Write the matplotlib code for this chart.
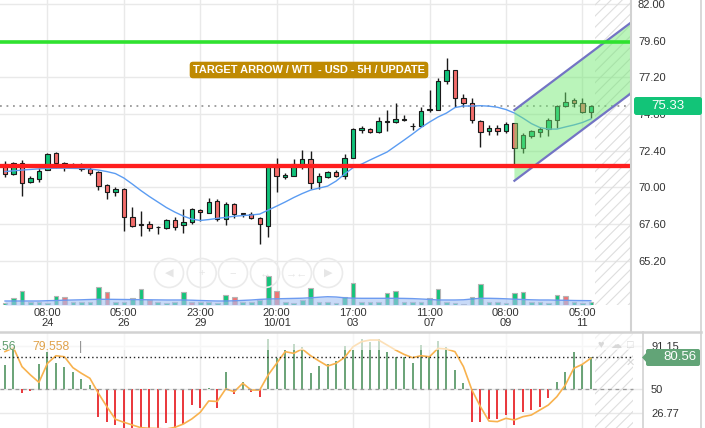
import matplotlib.pyplot as plt
import numpy as np
from matplotlib.lines import Line2D
from matplotlib.patches import Circle, FancyBboxPatch, Polygon, Rectangle

plt.rcParams["font.family"] = ["Liberation Sans", "DejaVu Sans"]
plt.rcParams["hatch.linewidth"] = 0.8

# WTI 5H candles
opens = [71.52, 70.85, 71.61, 70.35, 70.52, 71.13, 72.26, 71.61, 71.43, 71.33,
         71.20, 71.00, 70.15, 69.67, 69.87, 68.05, 67.58, 67.60, 67.43, 67.35,
         67.86, 67.51, 67.73, 68.51, 68.33, 69.10, 67.90, 68.89, 68.31, 68.23,
         67.97, 67.48, 71.35, 70.65, 70.76, 71.52, 71.85, 70.33, 70.69, 70.98,
         70.76, 71.90, 73.78, 73.79, 73.60, 74.32, 74.25, 74.42, 73.98, 74.03,
         75.06, 75.06, 76.94, 77.68, 75.82, 75.50, 74.36, 73.68, 73.86, 73.68,
         74.19, 72.55, 73.36, 73.64, 73.79, 74.40, 75.34, 75.71, 75.50, 74.91]
highs = [71.72, 71.67, 71.79, 70.74, 71.27, 72.24, 72.33, 71.65, 71.59, 71.59,
         71.39, 71.06, 70.21, 70.02, 69.95, 68.68, 68.45, 67.79, 67.48, 67.92,
         68.07, 68.56, 68.64, 68.58, 69.28, 69.23, 69.06, 68.97, 68.33, 68.38,
         68.05, 71.52, 71.90, 70.91, 71.85, 72.44, 72.37, 70.95, 71.06, 71.13,
         72.16, 73.90, 74.01, 73.88, 74.57, 75.06, 75.50, 74.73, 74.23, 75.27,
         76.37, 77.17, 78.44, 77.68, 76.08, 75.86, 74.40, 74.08, 74.08, 74.29,
         74.21, 73.57, 73.75, 73.97, 74.55, 75.39, 76.22, 75.86, 75.82, 75.39]
lows = [70.67, 70.80, 69.43, 70.28, 70.35, 71.13, 71.27, 71.06, 71.33, 71.06,
        70.80, 69.82, 69.23, 69.43, 67.14, 67.40, 66.83, 67.14, 66.97, 67.27,
        67.20, 67.03, 67.60, 67.79, 68.31, 67.79, 67.53, 68.01, 68.05, 67.92,
        66.29, 66.72, 69.67, 70.52, 70.74, 71.18, 69.89, 69.89, 70.61, 70.65,
        70.52, 71.90, 73.53, 73.55, 73.55, 73.68, 74.21, 74.36, 73.75, 74.01,
        74.95, 75.06, 76.74, 75.27, 75.27, 74.19, 72.66, 73.42, 73.42, 73.57,
        71.50, 72.22, 73.21, 73.31, 73.38, 73.86, 75.23, 75.27, 74.84, 74.51]
closes = [70.87, 71.61, 70.30, 70.61, 71.08, 72.18, 71.61, 71.44, 71.47, 71.23,
          70.95, 70.10, 69.71, 69.89, 68.03, 67.50, 67.55, 67.35, 67.40, 67.86,
          67.42, 67.71, 68.56, 68.36, 69.02, 67.90, 68.89, 68.23, 68.26, 67.97,
          67.58, 71.46, 70.74, 70.80, 71.50, 71.85, 70.26, 70.74, 70.98, 70.76,
          71.94, 73.81, 73.85, 73.60, 74.32, 74.27, 74.47, 74.47, 74.03, 75.01,
          75.10, 76.94, 77.68, 75.82, 75.50, 74.40, 73.64, 73.86, 73.68, 74.16,
          72.55, 73.42, 73.68, 73.81, 74.40, 75.34, 75.60, 75.50, 74.91, 75.33]
sma = [71.03, 71.08, 71.13, 71.17, 71.21, 71.24, 71.25, 71.25, 71.24, 71.23,
       71.20, 71.13, 71.03, 70.90, 70.61, 70.21, 69.79, 69.40, 69.04, 68.68,
       68.38, 68.12, 67.92, 67.83, 67.89, 67.97, 68.03, 68.11, 68.15, 68.19,
       68.25, 68.51, 68.77, 69.04, 69.33, 69.59, 69.82, 69.95, 70.08, 70.41,
       70.87, 71.29, 71.52, 71.79, 72.05, 72.31, 72.70, 73.09, 73.49, 73.91,
       74.27, 74.60, 74.86, 75.22, 75.32, 75.32, 75.34, 75.31, 75.24, 75.09,
       74.86, 74.53, 74.17, 73.91, 73.81, 73.81, 73.95, 74.08, 74.24, 74.47]

volumes = [200, 670, 1430, 300, 300, 230, 930, 830, 300, 300,
           330, 1830, 1330, 300, 330, 670, 1600, 500, 300, 200,
           330, 1330, 330, 300, 300, 200, 1000, 830, 300, 300,
           500, 2930, 1430, 300, 200, 500, 1730, 300, 300, 200,
           830, 2170, 300, 300, 330, 1170, 1430, 300, 300, 300,
           730, 1570, 300, 230, 100, 830, 2070, 300, 300, 200,
           1170, 1270, 300, 300, 200, 1000, 930, 300, 200, 300]
red_volume_idx = [7, 12, 17, 22, 27, 32, 54, 66]
volume_ma = [400, 400, 400, 400, 400, 430, 450, 480, 500, 520,
             550, 570, 570, 560, 550, 540, 530, 520, 510, 500,
             500, 500, 480, 450, 420, 400, 400, 420, 460, 500,
             560, 600, 620, 640, 660, 680, 720, 780, 830, 800,
             720, 680, 670, 670, 670, 670, 670, 660, 640, 600,
             560, 500, 500, 500, 520, 600, 670, 670, 650, 620,
             580, 550, 520, 500, 500, 480, 470, 450, 440, 430]

osc = [73, 89, 46, 48, 73.7, 86, 74.7, 71.5, 66.6, 59.6,
       53.8, 23.4, 18, 15.4, 12, 12, 12, 12, 12, 17,
       12, 16, 34.6, 31.4, 50.8, 31.4, 66.6, 45, 56.4, 46.7,
       42.6, 98, 79.5, 87.5, 93, 90.7, 65, 72.4, 73.7, 77,
       91.6, 87.5, 98, 95.5, 98, 86, 81, 81, 74.7, 92.3,
       81, 96, 90.7, 68.3, 55.4, 18.6, 18, 21, 21, 25,
       15.4, 27.6, 29.8, 32.4, 41.7, 56.4, 66.6, 86, 73, 80.56]
osc_ma = [86, 89.7, 71.5, 63.5, 56.4, 74.7, 82, 81, 70.5, 65.1,
          60.3, 45.9, 33, 20.9, 18, 15.4, 12.8, 12.2, 12, 11.5,
          13.1, 16.3, 21.2, 27.6, 38.5, 38, 50.1, 47.4, 55.5, 49,
          49, 63.5, 74.7, 85.9, 84.3, 88.5, 82, 76.9, 72.1, 74.7,
          80.4, 90.7, 95.5, 97.1, 97.1, 92.3, 87.5, 83.3, 80.1, 82,
          81, 89.1, 88.5, 85.9, 71.5, 49, 33, 19.2, 18.6, 21.8,
          20.2, 23.4, 25, 29.8, 34.6, 42.6, 53.8, 69.9, 73.7, 79.558]

tick_pos = [5, 14, 23, 32, 41, 50, 59, 68]
tick_labels = ["08:00\n24", "05:00\n26", "23:00\n29", "20:00\n10/01",
               "17:00\n03", "11:00\n07", "08:00\n09", "05:00\n11"]
price_ticks = [65.20, 67.60, 70.00, 72.40, 74.80, 77.20, 79.60, 82.00]
osc_ticks = [26.77, 50, 91.15]

resistance = 79.5
support = 71.41
last_price = 75.33
osc_last = 80.56
osc_ma_last = 79.558

channel_k = [60, 76]
channel_upper = [75.06, 81.73]
channel_lower = [70.43, 77.10]

title = "TARGET ARROW / WTI  - USD - 5H / UPDATE"

W, H = 705, 428
GREEN = "#10c27a"
RED = "#f36d6b"
GRID = "#e9e9e9"
BORDER = "#d2d2d2"

fig = plt.figure(figsize=(W / 100, H / 100), dpi=100)


def fx(px):
    return px / W


def fy(py):
    return 1 - py / H


def px_box(x0, y0, x1, y1, color, rounding=0.025):
    box = FancyBboxPatch((x0 / 100, (H - y1) / 100), (x1 - x0) / 100, (y1 - y0) / 100,
                         boxstyle=f"round,pad=0,rounding_size={rounding}",
                         transform=fig.dpi_scale_trans, fc=color, ec="none", zorder=5)
    fig.add_artist(box)


idx = np.arange(len(closes))
o = np.array(opens)
c = np.array(closes)

# ---- price panel ----
ax = fig.add_axes([0, fy(305), fx(631), 305 / H])
axv = ax.twinx()  # volume, drawn at the bottom of the price panel
ax.set_xlim(-0.589, 73.73)
ax.set_ylim(62.30, 82.257)
for s in ax.spines.values():
    s.set_visible(False)
ax.set_axisbelow(True)
ax.set_xticks(tick_pos)
ax.set_xticklabels(tick_labels, fontsize=8, color="#333333", linespacing=1.0)
ax.set_yticks(price_ticks)
ax.set_yticklabels([f"{p:.2f}" for p in price_ticks], fontsize=8, color="#333333")
ax.yaxis.tick_right()
ax.tick_params(axis="y", length=0, pad=5)
ax.tick_params(axis="x", length=0, pad=2)
ax.grid(True, color=GRID, lw=1)

ax.axvspan(69.5, 74, facecolor="none", edgecolor="#dedede", hatch="///", lw=0, zorder=1)

candle_colors = [GREEN if cc >= oo else RED for oo, cc in zip(o, c)]
ax.vlines(idx, lows, highs, color="#1a1a1a", lw=1, zorder=3)
ax.bar(idx, np.maximum(np.abs(c - o), 0.03), bottom=np.minimum(o, c), width=0.52,
       color=candle_colors, edgecolor="#1a1a1a", linewidth=0.8, zorder=4)
ax.plot(idx, sma, color="#5b9cf2", lw=1, zorder=4.5)

ax.axhline(last_price, color="#999999", lw=1.3, ls=(0, (1, 2.6)), zorder=2)

chan = Polygon([(channel_k[0], channel_lower[0]), (channel_k[0], channel_upper[0]),
                (channel_k[1], channel_upper[1]), (channel_k[1], channel_lower[1])],
               closed=True, fc="#6fe86f", alpha=0.48, ec="none", zorder=5)
ax.add_patch(chan)
ax.plot(channel_k, channel_upper, color="#7374c4", lw=1.6, zorder=6)
ax.plot(channel_k, channel_lower, color="#7374c4", lw=1.6, zorder=6)

ax.axhline(resistance, color="#2fe22f", lw=2.6, zorder=6)
ax.axhline(support, color="#ff1e1e", lw=3.1, zorder=6)

ax.text(fx(309) / fx(631), 1 - 70 / 305, title, transform=ax.transAxes,
        ha="center", va="center", fontsize=7.9, fontweight="bold", color="white",
        zorder=8, bbox=dict(boxstyle="round,pad=0.3,rounding_size=0.3",
                            fc="#bf8a02", ec="none"))

# volume
axv.set_ylim(0, 30500)
axv.axis("off")
vol_colors = ["#f07575" if i in red_volume_idx else "#14c47a" for i in idx]
axv.bar(idx, volumes, width=0.55, color=vol_colors, edgecolor="#b5b5b5", linewidth=0.8)
axv.fill_between(idx, 0, volume_ma, color="#a5c2f2", alpha=0.6, lw=0)
axv.plot(idx, volume_ma, color="#6d9bf0", lw=1)

# navigation buttons overlay
for cx, sym in zip([169, 201.7, 233, 265, 297, 328], ["◀", "+", "−", "↔", "→←", "▶"]):
    fig.add_artist(Circle((cx / 100, (H - 273) / 100), 0.145, transform=fig.dpi_scale_trans,
                          fc="none", ec="#ebebeb", lw=1.2))
    fig.text(fx(cx), fy(273), sym, ha="center", va="center", fontsize=8, color="#e6e6e6")

# ---- oscillator panel ----
ax2 = fig.add_axes([0, 0, fx(643), 95 / H])
ax2.set_xlim(-0.589, 75.15)
ax2.set_ylim(12.5, 103.85)
for s in ax2.spines.values():
    s.set_visible(False)
ax2.set_axisbelow(True)
ax2.set_xticks(tick_pos)
ax2.set_xticklabels([])
ax2.set_yticks(osc_ticks)
ax2.set_yticklabels(["26.77", "50", "91.15"], fontsize=8, color="#333333")
ax2.yaxis.tick_right()
ax2.tick_params(length=0)
ax2.tick_params(axis="y", pad=5.8)
ax2.grid(True, color=GRID, lw=1)

ax2.axvspan(69.5, 73.95, facecolor="none", edgecolor="#dedede", hatch="///", lw=0, zorder=1)
osc_colors = ["#5e9c6c" if v >= 50 else "#e8262b" for v in osc]
ax2.vlines(idx, 50, osc, colors=osc_colors, lw=1.3, zorder=3)
ax2.plot(idx, osc_ma, color="#f8b24e", lw=1.2, zorder=4)
ax2.hlines(50, -0.6, 73.95, color="#9a9a9a", lw=0.9, ls=(0, (3, 3)), zorder=5)
ax2.hlines(osc_last, -0.6, 73.95, color="#222222", lw=1, ls=(0, (1, 2)), zorder=5)
ax2.add_patch(Rectangle((0, 1 - 17 / 95), 1, 17 / 95, transform=ax2.transAxes,
                        fc="white", alpha=0.6, ec="none", zorder=6))

fig.text(fx(16), fy(347), f"{osc_last:.2f}", ha="right", va="center", fontsize=8.7, color="#5e9c6c")
fig.text(fx(32), fy(347), f"{osc_ma_last:.3f}", ha="left", va="center", fontsize=8.7, color="#e0a24a")
fig.text(fx(79), fy(347), "|", ha="left", va="center", fontsize=8.7, color="#888888")
for (px, py, sym) in [(601, 345, "♥"), (616, 345, "☁"), (630, 345, "□"), (630, 363, "✕")]:
    fig.text(fx(px), fy(py), sym, ha="center", va="center", fontsize=8, color="#d8d8d8")

# ---- frame lines ----
for (x0, y0, x1, y1, lw) in [(631, 0, 631, 332, 1.5), (0, 332, 701, 332, 1.8),
                             (643, 332, 643, 428, 1.2), (701, 0, 701, 428, 1.2)]:
    fig.add_artist(Line2D([fx(x0), fx(x1)], [fy(y0), fy(y1)], transform=fig.transFigure,
                          color=BORDER, lw=lw))

# ---- price labels ----
px_box(634, 97, 702, 115, "#12c478")
fig.text(fx(668), fy(106), f"{last_price:.2f}", ha="center", va="center", fontsize=9.5,
         color="white", zorder=6)
px_box(646, 349, 700, 366, "#62a477", rounding=0.02)
fig.add_artist(Polygon([(fx(642), fy(357.5)), (fx(648), fy(351)), (fx(648), fy(364))],
                       closed=True, transform=fig.transFigure, fc="#62a477", ec="none", zorder=5))
fig.text(fx(697), fy(357.5), f"{osc_last:.2f}", ha="right", va="center", fontsize=9.5,
         color="white", zorder=6)

fig.savefig("out.png", dpi=100)
